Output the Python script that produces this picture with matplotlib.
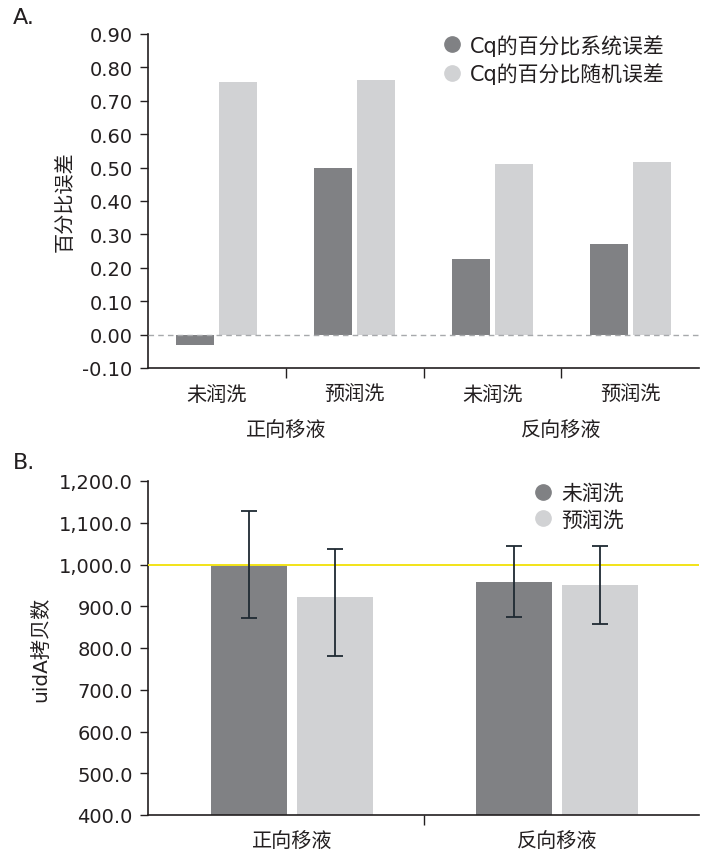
import matplotlib
matplotlib.use("Agg")
import matplotlib.pyplot as plt
from matplotlib.lines import Line2D
from matplotlib.ticker import FixedLocator, FuncFormatter

plt.rcParams['font.family'] = ['DejaVu Sans', 'Noto Sans CJK SC']

# ---- Panel A data: percent error of Cq ----
a_categories = ['未润洗', '预润洗', '未润洗', '预润洗']
a_groups = ['正向移液', '反向移液']
a_systematic = [-0.03, 0.50, 0.227, 0.272]
a_random = [0.757, 0.763, 0.51, 0.516]
a_series_names = ['Cq的百分比系统误差', 'Cq的百分比随机误差']
a_yticks = [-0.10, 0.00, 0.10, 0.20, 0.30, 0.40, 0.50, 0.60, 0.70, 0.80, 0.90]

# ---- Panel B data: uidA copy number ----
b_categories = ['正向移液', '反向移液']
b_unrinsed = [999, 958]
b_prerinsed = [923, 951]
b_unrinsed_err_low = [128, 84]
b_unrinsed_err_high = [130, 87]
b_prerinsed_err_low = [142, 93]
b_prerinsed_err_high = [115, 93]
b_series_names = ['未润洗', '预润洗']
b_reference = 1000
b_yticks = [400, 500, 600, 700, 800, 900, 1000, 1100, 1200]

DARK = '#808184'
LIGHT = '#d1d2d4'
INK = '#231f20'
ERR = '#1f2a33'

fig = plt.figure(figsize=(7.09, 8.54), dpi=100)


def style_axes(ax):
    for side in ('top', 'right'):
        ax.spines[side].set_visible(False)
    for side in ('left', 'bottom'):
        ax.spines[side].set_color(INK)
        ax.spines[side].set_linewidth(1.2)
    ax.tick_params(axis='y', direction='out', length=6, width=1.0,
                   color=INK, labelcolor=INK, labelsize=14, pad=5)
    ax.tick_params(axis='x', which='major', length=0, labelcolor=INK,
                   labelsize=14.5)
    ax.tick_params(axis='x', which='minor', direction='out', length=7,
                   width=1.0, color=INK)


# ---------------- Panel A ----------------
axA = fig.add_axes([148 / 709, 1 - 369 / 854, 551 / 709, 334 / 854])
style_axes(axA)
xa = list(range(len(a_categories)))
w = 0.276
off = 0.156
axA.bar([x - off for x in xa], a_systematic, width=w, color=DARK, zorder=2)
axA.bar([x + off for x in xa], a_random, width=w, color=LIGHT, zorder=2)
axA.axhline(0, color='#a7a9ac', lw=1.0, ls=(0, (4, 3)), zorder=3)
axA.set_xlim(-0.5, len(a_categories) - 0.5)
axA.set_ylim(a_yticks[0], a_yticks[-1])
axA.yaxis.set_major_locator(FixedLocator(a_yticks))
axA.yaxis.set_major_formatter(FuncFormatter(lambda v, p: f'{v:.2f}'))
axA.set_xticks(xa)
axA.set_xticklabels(a_categories)
axA.tick_params(axis='x', which='major', pad=12)
axA.xaxis.set_minor_locator(FixedLocator([0.5, 1.5, 2.5]))
for i, g in enumerate(a_groups):
    axA.annotate(g, xy=(2 * i + 0.5, 0), xycoords=('data', 'axes fraction'),
                 xytext=(0, -45), textcoords='offset points',
                 ha='center', va='center', fontsize=14.5, color=INK)
axA.set_ylabel('百分比误差', fontsize=14.5, color=INK)
axA.yaxis.set_label_coords(-0.133, 0.5)

hA = [Line2D([], [], marker='o', ls='', ms=11, color=DARK),
      Line2D([], [], marker='o', ls='', ms=11, color=LIGHT)]
axA.legend(hA, a_series_names, loc='upper left', frameon=False,
           bbox_to_anchor=(444 / 709, 1 - 35 / 854),
           bbox_transform=fig.transFigure, fontsize=15, borderpad=0,
           borderaxespad=0, handlelength=0.8, handletextpad=0.45,
           labelspacing=0.33, labelcolor=INK)

# ---------------- Panel B ----------------
axB = fig.add_axes([148 / 709, 1 - 816 / 854, 551 / 709, 334 / 854])
style_axes(axB)
xb = list(range(len(b_categories)))
wb = 0.287
offb = 0.162
axB.bar([x - offb for x in xb], b_unrinsed, width=wb, color=DARK, zorder=2)
axB.bar([x + offb for x in xb], b_prerinsed, width=wb, color=LIGHT, zorder=2)
axB.errorbar([x - offb for x in xb], b_unrinsed,
             yerr=[b_unrinsed_err_low, b_unrinsed_err_high], fmt='none',
             ecolor=ERR, elinewidth=1.3, capsize=5.5, capthick=1.3, zorder=4)
axB.errorbar([x + offb for x in xb], b_prerinsed,
             yerr=[b_prerinsed_err_low, b_prerinsed_err_high], fmt='none',
             ecolor=ERR, elinewidth=1.3, capsize=5.5, capthick=1.3, zorder=4)
axB.axhline(b_reference, color='#f2e318', lw=1.4, zorder=3)
axB.set_xlim(-0.543, 1.536)
axB.set_ylim(b_yticks[0], b_yticks[-1])
axB.yaxis.set_major_locator(FixedLocator(b_yticks))
axB.yaxis.set_major_formatter(FuncFormatter(lambda v, p: f'{v:,.1f}'))
axB.set_xticks(xb)
axB.set_xticklabels(b_categories)
axB.tick_params(axis='x', which='major', pad=12)
axB.xaxis.set_minor_locator(FixedLocator([0.5]))
axB.set_ylabel('uidA拷贝数', fontsize=14.5, color=INK)
axB.yaxis.set_label_coords(-0.178, 0.5)

hB = [Line2D([], [], marker='o', ls='', ms=11, color=DARK),
      Line2D([], [], marker='o', ls='', ms=11, color=LIGHT)]
axB.legend(hB, b_series_names, loc='upper left', frameon=False,
           bbox_to_anchor=(535 / 709, 1 - 484 / 854),
           bbox_transform=fig.transFigure, fontsize=15, borderpad=0,
           borderaxespad=0, handlelength=0.8, handletextpad=0.45,
           labelspacing=0.3, labelcolor=INK)

fig.text(13 / 709, 1 - 18 / 854, 'A.', fontsize=16, color=INK,
         ha='left', va='center')
fig.text(13 / 709, 1 - 463 / 854, 'B.', fontsize=16, color=INK,
         ha='left', va='center')

fig.savefig('out.png', dpi=100)
